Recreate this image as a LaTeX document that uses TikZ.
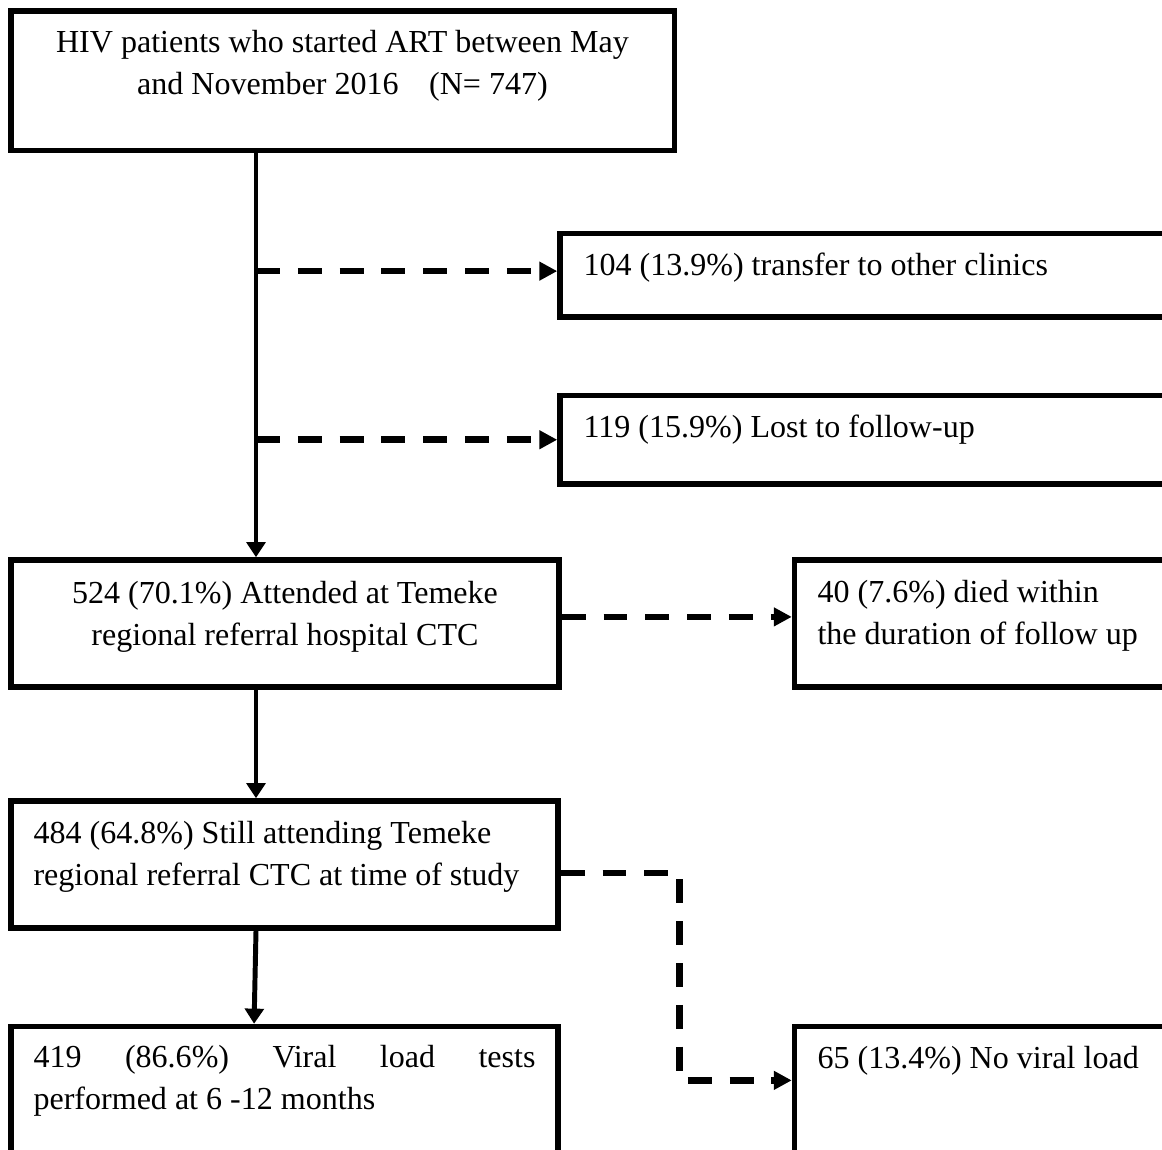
\documentclass[tikz,border=0pt]{standalone}
\usepackage{fontspec}
\setmainfont{Liberation Serif}
\usetikzlibrary{positioning}
\usetikzlibrary{fit}
\usetikzlibrary{arrows.meta}
\tikzstyle{bx}=[draw,rectangle,line width=2pt,inner sep=0pt]
\tikzstyle{tx}=[inner sep=0pt,font=\fontsize{11.65}{15.3}\selectfont]
\tikzstyle{arr}=[line width=1.8pt,-{Triangle[length=5.5pt,width=6.8pt]}]
\tikzstyle{dar}=[line width=2.4pt,dash pattern=on 8.7pt off 6.5pt,-{Triangle[length=6.5pt,width=6.5pt]}]

\begin{document}
\begin{tikzpicture}[x=0.3636pt,y=-0.3636pt]
      \clip (0,0) rectangle (1162,1150);
      % boxes
      \node [bx,fit={(11,11) (674.5,150.5)}] (hiv) {};
      \node [bx,fit={(560,233.5) (1180,317)}] (trans) {};
      \node [bx,fit={(560,395.5) (1180,484)}] (lost) {};
      \node [bx,fit={(11,560) (559,687)}] (att) {};
      \node [bx,fit={(794.5,560) (1180,687)}] (died) {};
      \node [bx,fit={(11,801) (558,928)}] (still) {};
      \node [bx,fit={(11,1026.5) (558,1170)}] (vl) {};
      \node [bx,fit={(794.5,1026.5) (1180,1170)}] (novl) {};
      \coordinate (trunk) at (256,0);
      % texts
      \node [tx,align=center,anchor=north] (hivt) at (342.5,30) {HIV patients who started ART between May\\and November 2016\hspace{0.95em}(N= 747)};
      \node [tx,anchor=base west] (transt) at (583,275) {104 (13.9\%) transfer to other clinics};
      \node [tx,anchor=base west] (lostt) at (583,437) {119 (15.9\%) Lost to follow-up};
      \node [tx,align=center,anchor=north] (attt) at (285,581) {524 (70.1\%) Attended at Temeke\\regional referral hospital CTC};
      \node [tx,align=left,anchor=north west] (diedt) at (817,580) {40 (7.6\%) died within\\the duration of follow up};
      \node [tx,align=left,anchor=north west] (stillt) at (33,821) {484 (64.8\%) Still attending Temeke\\regional referral CTC at time of study};
      \node [tx,text width=182.5pt,align=justify,anchor=north west] (vlt) at (33,1045) {419 (86.6\%) Viral load tests\linebreak performed at 6 -12 months};
      \node [tx,anchor=base west] (novlt) at (817,1068) {65 (13.4\%) No viral load};
      % connectors
      \draw [arr] (trunk |- hiv.south) -- (trunk |- att.north);
      \draw [dar] ([yshift=1.5pt]trunk |- trans.west) -- ([yshift=1.5pt]trans.west);
      \draw [dar] (trunk |- lost.west) -- (lost.west);
      \draw [dar] ([yshift=2.4pt]att.east) -- ([yshift=2.4pt]died.west);
      \draw [arr] (trunk |- att.south) -- (trunk |- still.north);
      \draw [dar] ([yshift=-3.1pt]still.east) -- ++(119,0) |- ([yshift=6.5pt]novl.west);
      \draw [arr] (trunk |- still.south) -- ([xshift=-0.7pt]trunk |- vl.north);
\end{tikzpicture}
\end{document}
